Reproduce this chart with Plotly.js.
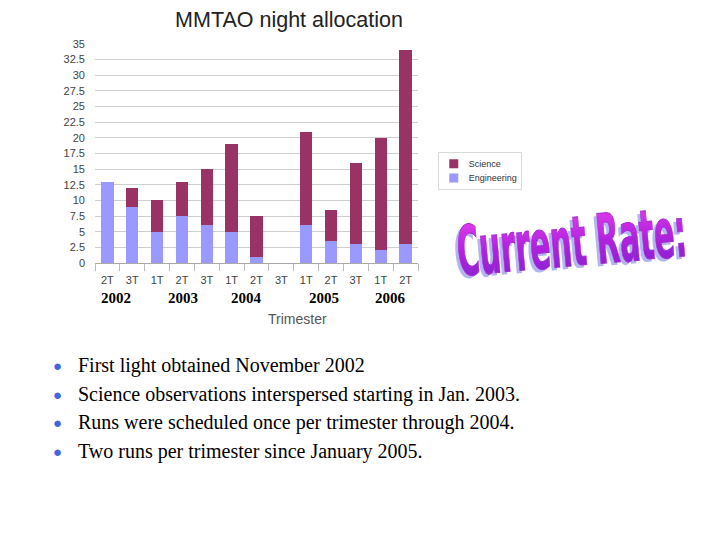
<!DOCTYPE html>
<html><head><meta charset="utf-8">
<script src="https://cdn.plot.ly/plotly-3.0.1.min.js"></script>
<style>body{margin:0;background:#fff}#chart{width:720px;height:540px}</style>
</head><body><div id="chart"></div>
<script>
const categories = ['2002 2T','2002 3T','2003 1T','2003 2T','2003 3T','2004 1T','2004 2T','2004 3T','2005 1T','2005 2T','2005 3T','2006 1T','2006 2T'];
const tickLabels = ['2T','3T','1T','2T','3T','1T','2T','3T','1T','2T','3T','1T','2T'];
const engineering = [13, 9, 5, 7.5, 6, 5, 1, 0, 6, 3.5, 3, 2, 3];
const science = [0, 3, 5, 5.5, 9, 14, 6.5, 0, 15, 5, 13, 18, 31];
const yearLabels = ['2002','2003','2004','2005','2006'];
const yearPos = [0.35, 3.05, 5.6, 8.7, 11.4];
const bullets = [
  'First light obtained November 2002',
  'Science observations interspersed starting in Jan. 2003.',
  'Runs were scheduled once per trimester through 2004.',
  'Two runs per trimester since January 2005.'
];

const W = 720, H = 540, L = 95, R = 302, T = 44, B = 277;
const pw = W - L - R, ph = H - T - B;
const px = x => (x - L) / pw;
const py = y => (H - B - y) / ph;

const traces = [
  {type:'bar', name:'Engineering', x:categories, y:engineering, marker:{color:'#9999ff'}},
  {type:'bar', name:'Science', x:categories, y:science, marker:{color:'#993366'}}
];

const annotations = [];
yearLabels.forEach((t,i)=>annotations.push({
  text:t, xref:'x', yref:'paper', x:yearPos[i], y:py(298), showarrow:false,
  xanchor:'center', yanchor:'middle',
  font:{family:'Liberation Serif, Times New Roman, serif', size:15, color:'#000', weight:'bold'}
}));
annotations.push({text:'Trimester', xref:'paper', yref:'paper', x:px(297), y:py(319), showarrow:false,
  xanchor:'center', yanchor:'middle', font:{family:'Liberation Sans, Arial', size:14, color:'#555'}});
bullets.forEach((t,i)=>{
  const yy = [365,394,422,451][i];
  annotations.push({text:'●', xref:'paper', yref:'paper', x:px(57), y:py(yy), showarrow:false,
    xanchor:'center', yanchor:'middle', font:{size:15, color:'#4466dd'}});
  annotations.push({text:t, xref:'paper', yref:'paper', x:px(76), y:py(yy), showarrow:false,
    xanchor:'left', yanchor:'middle',
    font:{family:'Liberation Serif, Times New Roman, serif', size:20, color:'#000'}});
});
annotations.push({text:'Current Rate:', xref:'paper', yref:'paper', x:px(571), y:py(242),
  showarrow:false, xanchor:'center', yanchor:'middle',
  font:{family:'Liberation Sans Narrow, DejaVu Sans Condensed, Liberation Sans, Arial', size:40, color:'#bb33cc', weight:'bold'}});

const layout = {
  width:W, height:H, margin:{l:L, r:R, t:T, b:B},
  paper_bgcolor:'#fff', plot_bgcolor:'#fff',
  barmode:'stack', bargap:0.5,
  title:{text:'MMTAO night allocation', x:px(289), xref:'paper', xanchor:'center',
    y:1-19/H, yref:'container', yanchor:'middle',
    font:{family:'Liberation Sans, Arial, sans-serif', size:21.5, color:'#222'}},
  xaxis:{type:'category', tickmode:'array', tickvals:categories, ticktext:tickLabels,
    showline:true, linecolor:'#aaa', ticks:'outside', tickson:'boundaries', ticklen:7, tickcolor:'#bbb',
    showgrid:false, ticklabelstandoff:7, tickfont:{family:'Liberation Sans, Arial', size:11, color:'#444'},
    automargin:false, fixedrange:true},
  yaxis:{range:[0,35], dtick:2.5, showgrid:true, gridcolor:'#cfcfcf', zeroline:false, showline:false,
    ticks:'', ticklabelstandoff:9, tickfont:{family:'Liberation Sans, Arial', size:11, color:'#444'},
    automargin:false, fixedrange:true},
  legend:{x:px(438), y:py(152), xanchor:'left', yanchor:'top', bordercolor:'#ccc', borderwidth:1,
    font:{family:'Liberation Sans, Arial', size:12, color:'#333'}, tracegroupgap:0, itemwidth:30},
  annotations:annotations
};

function post(gd){
  const svg = gd.querySelector('svg.main-svg');
  const NS = 'http://www.w3.org/2000/svg';
  if (!svg.querySelector('#wagrad')) {
    let defs = svg.querySelector('defs');
    const grad = document.createElementNS(NS,'linearGradient');
    grad.setAttribute('id','wagrad'); grad.setAttribute('x1','0'); grad.setAttribute('y1','0');
    grad.setAttribute('x2','0'); grad.setAttribute('y2','1');
    [['0','#ee44ee'],['0.5','#b322dd'],['1','#7a22cc']].forEach(([o,c])=>{
      const s=document.createElementNS(NS,'stop'); s.setAttribute('offset',o); s.setAttribute('stop-color',c); grad.appendChild(s);
    });
    defs.appendChild(grad);
  }
  const t = [...gd.querySelectorAll('text.annotation-text')].find(e=>e.textContent==='Current Rate:' && !e.dataset.done);
  if (t) {
    t.dataset.done = '1';
    const bb = t.getBBox();
    const sx = 230 / bb.width, sy = 50 / (0.63*bb.height);
    const tf = `rotate(-5deg) scale(${sx},${sy})`;
    const sh = t.cloneNode(true);
    sh.style.fill = '#b4b4ee';
    t.parentNode.insertBefore(sh, t);
    [sh,t].forEach(e=>{ e.style.transformBox='fill-box'; e.style.transformOrigin='center'; });
    sh.style.transform = `translate(-3px,3px) ${tf}`;
    t.style.transform = tf;
    t.style.fill = 'url(#wagrad)';
    t.style.stroke = '#a52ad8'; t.style.strokeWidth = '0.6px';
  }
  const lg = gd.querySelector('g.legend');
  if (lg && !lg.dataset.done) {
    lg.dataset.done = '1';
    lg.setAttribute('transform', lg.getAttribute('transform') + ' scale(0.75)');
  }
}

Plotly.newPlot('chart', traces, layout, {displayModeBar:false, staticPlot:true}).then(gd=>{
  post(gd);
  gd.on('plotly_afterplot', ()=>post(gd));
});
</script></body></html>
